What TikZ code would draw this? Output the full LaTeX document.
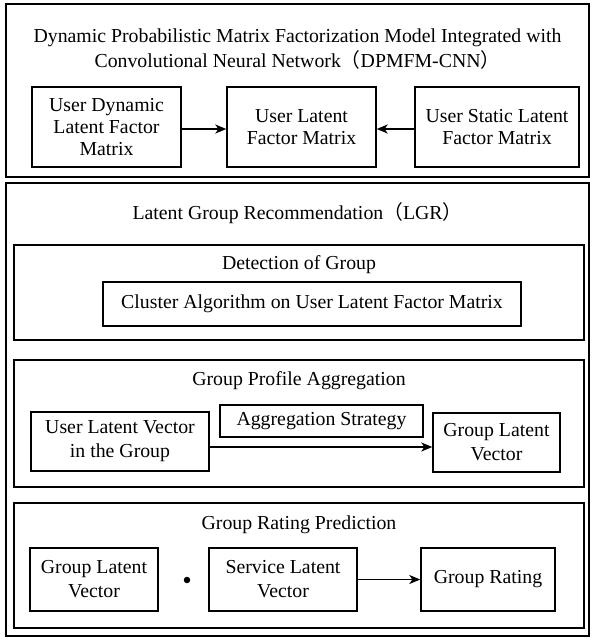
\documentclass[tikz,border=0pt]{standalone}
\usepackage{fontspec}
\setmainfont{Liberation Serif}
\newfontfamily\cjk{Noto Sans CJK SC}
\usetikzlibrary{arrows.meta}
\begin{document}
\begin{tikzpicture}[x=1pt,y=-1pt,
  every node/.style={font=\fontsize{19.8}{24}\selectfont, align=center, inner sep=0pt},
  tight/.style={font=\fontsize{19.8}{22}\selectfont},
  frame/.style={draw, line width=1.4pt},
  box/.style={draw, line width=1.4pt, minimum height=60pt},
  conn/.style={line width=1.4pt, -{Stealth[length=11pt,width=9pt,inset=3pt]}}]
\useasboundingbox (0,0) rectangle (593,641);
% top block
\node[frame, minimum width=583pt, minimum height=173pt] (f1) at (297.5,90.5) {};
\node[font=\fontsize{19.8}{25}\selectfont] (t1) at (297.5,49.5) {Dynamic Probabilistic Matrix Factorization Model Integrated with\\Convolutional Neural Network{\cjk（}DPMFM-CNN{\cjk）}};
\node[box, tight, minimum width=149pt, minimum height=80pt] (udl) at (106.5,127) {User Dynamic\\Latent Factor\\Matrix};
\node[box, tight, minimum width=149pt, minimum height=80pt] (ul) at (301.5,127) {User Latent\\Factor Matrix};
\node[box, tight, minimum width=164pt, minimum height=80pt] (usl) at (497,127) {User Static Latent\\Factor Matrix};
\draw[conn] (udl.east |- 0,129) coordinate (b1) -- (ul.west |- b1);
\draw[conn] (usl.west |- 0,129) coordinate (b2) -- (ul.east |- b2);
% LGR block
\node[frame, minimum width=583pt, minimum height=453pt] (f2) at (297.5,409.5) {};
\node (t2) at (297.5,213) {Latent Group Recommendation{\cjk（}LGR{\cjk）}};
% detection
\node[frame, minimum width=570pt, minimum height=95pt] (fd) at (299,292.5) {};
\node (td) at (299,265) {Detection of Group};
\node[box, minimum width=418pt, minimum height=44pt] (cl) at (312,304) {Cluster Algorithm on User Latent Factor Matrix};
% aggregation
\node[frame, minimum width=570pt, minimum height=127pt] (fa) at (299,423.5) {};
\node (ta) at (299,381) {Group Profile Aggregation};
\node[box, minimum width=203pt, minimum height=32pt] (as) at (321.5,421) {Aggregation Strategy};
\node[box, minimum width=178pt, minimum height=59pt] (ulv) at (120,441.5) {User Latent Vector\\in the Group};
\node[box, minimum width=127pt, minimum height=59pt] (glv) at (496.5,442.5) {Group Latent\\Vector};
\draw[conn] (ulv.east |- 0,447) coordinate (a1) -- (glv.west |- a1);
% rating prediction
\node[frame, minimum width=570pt, minimum height=125pt] (fr) at (299,565.5) {};
\node (tr) at (299,525) {Group Rating Prediction};
\node[box, minimum width=128pt, minimum height=63pt] (glv2) at (94,579.5) {Group Latent\\Vector};
\node[circle, fill, minimum size=6.5pt] (dot) at (187,580) {};
\node[box, minimum width=148pt, minimum height=63pt] (slv) at (283,579.5) {Service Latent\\Vector};
\node[box, minimum width=134pt, minimum height=63pt] (gr) at (488,579.5) {Group Rating};
\draw[conn] (slv) -- (gr);
\end{tikzpicture}
\end{document}
